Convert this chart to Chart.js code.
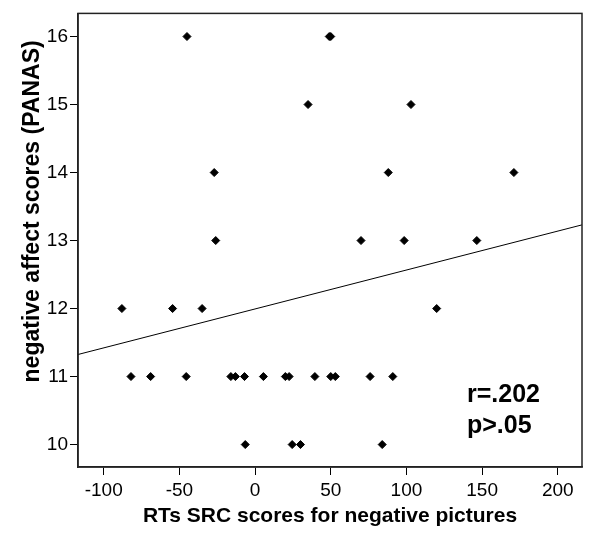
<!DOCTYPE html>
<html>
<head>
<meta charset="utf-8">
<script src="https://cdn.jsdelivr.net/npm/chart.js@4"></script>
<style>
  html, body { margin: 0; padding: 0; background: #fff; }
  #wrap { width: 589px; height: 534px; position: relative; }
</style>
</head>
<body>
<div id="wrap"><canvas id="myChart"></canvas></div>
<script>
  // RT scores (x) and PANAS scores (y)
  const rtScores = [
    -45, 49, 50,
    35, 103,
    -27, 88, 171,
    -26, 70, 98.5, 146.5,
    -88, -54.5, -35, 120,
    -82, -69, -45.5, -16, -13, -7, 5.5, 20, 22.5, 39.5, 50, 53, 76, 91,
    -6.5, 24.5, 30, 84
  ];
  const panasScores = [
    16, 16, 16,
    15, 15,
    14, 14, 14,
    13, 13, 13, 13,
    12, 12, 12, 12,
    11, 11, 11, 11, 11, 11, 11, 11, 11, 11, 11, 11, 11, 11,
    10, 10, 10, 10
  ];
  const xTicks = [-100, -50, 0, 50, 100, 150, 200];
  const yTicks = [10, 11, 12, 13, 14, 15, 16];
  const xRange = [-117, 216];
  const yRange = [9.67, 16.34];
  // fit line as drawn in the figure
  const fitIntercept = 11.994;
  const fitSlope = 0.005724;
  const statsText = ['r=.202', 'p>.05'];
  const yTitle = 'negative affect scores (PANAS)';

  const FONT = "'Liberation Sans', Arial, sans-serif";

  const points = rtScores.map((x, i) => ({ x: x, y: panasScores[i] }));
  const fitLine = xRange.map(x => ({ x: x, y: fitIntercept + fitSlope * x }));

  const frame = {
    id: 'frame',
    afterDraw(chart) {
      const { ctx, chartArea: a } = chart;
      ctx.save();
      ctx.strokeStyle = '#222';
      ctx.lineWidth = 1.5;
      ctx.strokeRect(a.left, a.top, a.right - a.left, a.bottom - a.top);
      ctx.fillStyle = '#000';
      ctx.font = 'bold 25px ' + FONT;
      ctx.textBaseline = 'alphabetic';
      ctx.fillText(statsText[0], a.right - 115, a.bottom - 65);
      ctx.fillText(statsText[1], a.right - 115, a.bottom - 34);
      // y title, sits a bit above the middle of the axis like the original
      ctx.translate(33, a.top + 198);
      ctx.rotate(-Math.PI / 2);
      ctx.font = 'bold 23px ' + FONT;
      ctx.textAlign = 'center';
      ctx.textBaseline = 'middle';
      ctx.fillText(yTitle, 0, 0);
      ctx.restore();
    }
  };

  const ctx = document.getElementById('myChart').getContext('2d');
  new Chart(ctx, {
    type: 'scatter',
    data: {
      datasets: [
        {
          data: points,
          pointStyle: 'rectRot',
          pointRadius: 4,
          backgroundColor: '#000',
          borderColor: '#000',
          borderWidth: 1
        },
        {
          type: 'line',
          data: fitLine,
          borderColor: '#000',
          borderWidth: 1,
          pointRadius: 0,
          fill: false
        }
      ]
    },
    options: {
      responsive: true,
      maintainAspectRatio: false,
      animation: false,
      layout: { padding: { top: 9, right: 7, left: 0, bottom: 0 } },
      plugins: { legend: { display: false }, tooltip: { enabled: false } },
      scales: {
        x: {
          type: 'linear',
          min: xRange[0],
          max: xRange[1],
          afterBuildTicks: s => { s.ticks = xTicks.map(v => ({ value: v })); },
          afterFit: s => { s.height = 67; },
          grid: { drawOnChartArea: false, drawTicks: true, tickLength: 8, color: '#000' },
          border: { display: true, color: '#222', width: 1.5 },
          ticks: { color: '#000', padding: 4, font: { family: FONT, size: 19 } },
          title: {
            display: true,
            text: 'RTs SRC scores for negative pictures',
            color: '#000',
            font: { family: FONT, size: 21, weight: 'bold' },
            padding: { top: 0, bottom: 5 }
          }
        },
        y: {
          type: 'linear',
          min: yRange[0],
          max: yRange[1],
          afterBuildTicks: s => { s.ticks = yTicks.map(v => ({ value: v })); },
          afterFit: s => { s.width = 78; },
          grid: { drawOnChartArea: false, drawTicks: true, tickLength: 8, color: '#000' },
          border: { display: true, color: '#222', width: 1.5 },
          ticks: { color: '#000', padding: 2, font: { family: FONT, size: 19 } }
        }
      }
    },
    plugins: [frame]
  });
</script>
</body>
</html>
